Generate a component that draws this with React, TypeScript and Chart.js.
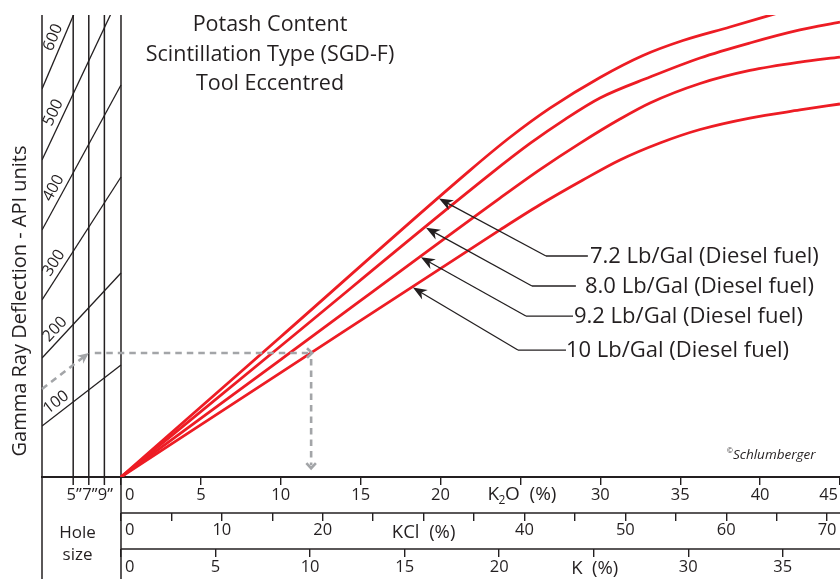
import React, { useEffect, useRef } from "react";
import { Chart, registerables } from "chart.js";

Chart.register(...registerables);

// ---------- scales ----------
const K2O_MIN = -4.944; // left edge of the hole-size panel, in K2O % units
const K2O_MAX = 45;
const KCL_PER_K2O = 1.584;
const K_PER_K2O = 0.845;
const GR_MIN = 0;
const GR_MAX = 500;

// hidden hole-size axis of the left nomogram panel (inches)
const HOLE_LEFT = 1;
const HOLE_AT_ORIGIN = 11.13;
const HOLE_MAX = HOLE_LEFT + ((HOLE_AT_ORIGIN - HOLE_LEFT) * (K2O_MAX - K2O_MIN)) / -K2O_MIN;
const HOLE_SIZES = [5, 7, 9];
const HOLE_LABELS = ["5\u201D", "7\u201D", "9\u201D"];

// ---------- tick values / labels ----------
const K2O_TICKS = [0, 5, 10, 15, 20, 25, 30, 35, 40, 45];
const K2O_LABELS = [0, 5, 10, 15, 20, 30, 35, 40, 45];
const K2O_NAME_AT = 25;
const KCL_TICKS = [0, 5, 10, 15, 20, 25, 30, 35, 40, 45, 50, 55, 60, 65, 70];
const KCL_LABELS = [0, 10, 20, 40, 50, 60, 70];
const KCL_NAME_AT = 30;
const K_TICKS = [0, 5, 10, 15, 20, 25, 30, 35];
const K_LABELS = [0, 5, 10, 15, 20, 30, 35];
const K_NAME_AT = 25;

// ---------- curves (x: K2O %, y: gamma ray deflection) ----------
const FUEL_LABELS = [
  "7.2 Lb/Gal (Diesel fuel)",
  "8.0 Lb/Gal (Diesel fuel)",
  "9.2 Lb/Gal (Diesel fuel)",
  "10 Lb/Gal (Diesel fuel)",
];
const K2O_72 = [0, 10, 21.84, 24.35, 26.85, 29.98, 32.67, 35.17, 38.11, 41.12];
const GR_72 = [0, 151.8, 331.9, 367.7, 399.2, 432.4, 456.2, 472.4, 487.0, 502.2];
const K2O_80 = [0, 10, 23.09, 25.6, 27.79, 29.98, 33.11, 36.24, 39.36, 42.49, 45];
const GR_80 = [0, 141.8, 327.5, 361.0, 387.1, 410.2, 432.9, 453.5, 469.7, 483.8, 492.4];
const K2O_92 = [0, 10, 23.72, 26.22, 28.72, 31.23, 33.11, 36.24, 39.36, 42.49, 45];
const GR_92 = [0, 127.1, 301.9, 332.7, 361.1, 387.4, 404.8, 425.9, 440.0, 449.1, 454.5];
const K2O_100 = [0, 10, 23.72, 26.22, 28.91, 31.23, 33.73, 36.24, 39.36, 42.49, 45];
const GR_100 = [0, 113.0, 267.4, 294.6, 321.4, 343.1, 361.5, 376.1, 388.5, 397.2, 403.7];

// ---------- hole-size nomogram lines ----------
const GR_LINE_VALUES = [100, 200, 300, 400, 500, 600];
const GR_LINE_AT_LEFT = [55.2, 128.8, 191.6, 267.3, 343.1, 419.9];
const GR_LINE_AT_ORIGIN = [121.2, 220.8, 324.7, 424.2, 524.4, 620.6];

// ---------- worked example (dashed grey path) ----------
const EX_GR_LEFT = 95.2;
const EX_HOLE = 7;
const EX_GR = 134.2;
const EX_K2O = 11.9;
const EX_GR_END = 9.5;

// ---------- text ----------
const TITLE_LINES = ["Potash Content", "Scintillation Type (SGD-F)", "Tool Eccentred"];
const Y_TITLE = "Gamma Ray Deflection - API units";
const COPYRIGHT = "Schlumberger";

// ---------- layout / style ----------
const W = 840;
const H = 579;
const INK = "#231f20";
const RED = "#ed1c24";
const GRAY = "#a3a5a8";
const FONT = '"Open Sans", "Noto Sans", sans-serif';
const LEADERS = [
  { tip: 19.9, elbowX: 26.6, elbowY: 239.2, lineEnd: 29.22, textX: 29.35 },
  { tip: 19.09, elbowX: 25.72, elbowY: 206.7, lineEnd: 28.47, textX: 29.04 },
  { tip: 18.77, elbowX: 25.34, elbowY: 174.2, lineEnd: 28.29, textX: 28.35 },
  { tip: 18.27, elbowX: 24.84, elbowY: 137.4, lineEnd: 27.85, textX: 27.85 },
];

const CURVES = [
  [K2O_72, GR_72],
  [K2O_80, GR_80],
  [K2O_92, GR_92],
  [K2O_100, GR_100],
];

function interp(xs: number[], ys: number[], x: number) {
  for (let i = 1; i < xs.length; i++) {
    if (x <= xs[i]) {
      const t = (x - xs[i - 1]) / (xs[i] - xs[i - 1]);
      return ys[i - 1] + t * (ys[i] - ys[i - 1]);
    }
  }
  return ys[ys.length - 1];
}

function seg(ctx: CanvasRenderingContext2D, x1: number, y1: number, x2: number, y2: number) {
  ctx.beginPath();
  ctx.moveTo(x1, y1);
  ctx.lineTo(x2, y2);
  ctx.stroke();
}

function arrowHead(
  ctx: CanvasRenderingContext2D,
  tx: number,
  ty: number,
  fx: number,
  fy: number,
  len: number,
  half: number,
  color: string
) {
  const a = Math.atan2(ty - fy, tx - fx);
  const c = Math.cos(a);
  const s = Math.sin(a);
  const bx = tx - len * c;
  const by = ty - len * s;
  const nx = tx - len * 0.7 * c;
  const ny = ty - len * 0.7 * s;
  ctx.save();
  ctx.fillStyle = color;
  ctx.beginPath();
  ctx.moveTo(tx, ty);
  ctx.lineTo(bx - s * half, by + c * half);
  ctx.lineTo(nx, ny);
  ctx.lineTo(bx + s * half, by - c * half);
  ctx.closePath();
  ctx.fill();
  ctx.restore();
}

function chevron(ctx: CanvasRenderingContext2D, tx: number, ty: number, ang: number, len: number) {
  const spread = 0.75;
  ctx.beginPath();
  ctx.moveTo(tx - len * Math.cos(ang - spread), ty - len * Math.sin(ang - spread));
  ctx.lineTo(tx, ty);
  ctx.lineTo(tx - len * Math.cos(ang + spread), ty - len * Math.sin(ang + spread));
  ctx.stroke();
}

const decoPlugin = {
  id: "deco",
  beforeDatasetsDraw(chart: any) {
    const { ctx, chartArea: a, scales } = chart;
    const sx = scales.x;
    const sh = scales.xh;
    const sc = scales.xKCl;
    const sk = scales.xK;
    const X0 = sx.getPixelForValue(0);
    ctx.save();
    ctx.strokeStyle = INK;
    ctx.lineWidth = 1.5;
    seg(ctx, a.left, a.top, a.left, chart.height);
    seg(ctx, X0, a.top, X0, chart.height);
    HOLE_SIZES.forEach((h) => {
      const p = sh.getPixelForValue(h);
      seg(ctx, p, a.top, p, a.bottom + 8);
    });
    ctx.lineWidth = 1.6;
    seg(ctx, X0, sc.top, a.right, sc.top);
    seg(ctx, X0, sk.top, a.right, sk.top);
    ctx.restore();
  },
  afterDatasetsDraw(chart: any) {
    const { ctx, chartArea: a, scales } = chart;
    const sx = scales.x;
    const sh = scales.xh;
    const sy = scales.y;
    const sc = scales.xKCl;
    const sk = scales.xK;
    const X0 = sx.getPixelForValue(0);
    ctx.save();
    ctx.fillStyle = INK;
    ctx.strokeStyle = INK;

    // nomogram labels
    ctx.font = `16px ${FONT}`;
    ctx.textAlign = "center";
    ctx.textBaseline = "middle";
    GR_LINE_VALUES.forEach((v, i) => {
      const xL = sh.getPixelForValue(HOLE_LEFT);
      const yL = sy.getPixelForValue(GR_LINE_AT_LEFT[i]);
      const xR = sh.getPixelForValue(HOLE_AT_ORIGIN);
      const yR = sy.getPixelForValue(GR_LINE_AT_ORIGIN[i]);
      const ang = Math.atan2(yR - yL, xR - xL);
      const ax = sh.getPixelForValue(3.6);
      const ay = yL + ((ax - xL) * (yR - yL)) / (xR - xL);
      const cx = ax + 10 * Math.sin(ang);
      const cy = ay - 10 * Math.cos(ang);
      ctx.save();
      ctx.translate(cx, cy);
      ctx.rotate(ang);
      ctx.fillText(String(v), 0, 0);
      ctx.restore();
    });

    // worked example
    ctx.save();
    ctx.strokeStyle = GRAY;
    ctx.lineWidth = 2.6;
    ctx.setLineDash([6.5, 5]);
    const p1x = sh.getPixelForValue(HOLE_LEFT);
    const p1y = sy.getPixelForValue(EX_GR_LEFT);
    const p2x = sh.getPixelForValue(EX_HOLE);
    const p2y = sy.getPixelForValue(EX_GR);
    const p3x = sx.getPixelForValue(EX_K2O);
    const p4y = sy.getPixelForValue(EX_GR_END);
    const a1 = Math.atan2(p2y - p1y, p2x - p1x);
    seg(ctx, p1x, p1y, p2x - 7 * Math.cos(a1), p2y - 7 * Math.sin(a1));
    seg(ctx, p2x + 6, p2y, p3x - 3, p2y);
    seg(ctx, p3x, p2y + 6, p3x, p4y - 3);
    ctx.setLineDash([]);
    arrowHead(ctx, p2x, p2y, p1x, p1y, 11, 5, GRAY);
    ctx.lineWidth = 2.6;
    chevron(ctx, p3x + 1, p2y, 0, 7);
    chevron(ctx, p3x, p4y, Math.PI / 2, 7);
    ctx.restore();

    // leaders
    ctx.lineWidth = 1.3;
    ctx.font = `22px ${FONT}`;
    ctx.textAlign = "left";
    ctx.textBaseline = "middle";
    LEADERS.forEach((L, i) => {
      const [xs, ys] = CURVES[i];
      const tx = sx.getPixelForValue(L.tip);
      const ty = sy.getPixelForValue(interp(xs, ys, L.tip)) + 1;
      const ex = sx.getPixelForValue(L.elbowX);
      const ey = sy.getPixelForValue(L.elbowY);
      const lx = sx.getPixelForValue(L.lineEnd);
      seg(ctx, lx, ey, ex, ey);
      const ang = Math.atan2(ty - ey, tx - ex);
      seg(ctx, ex, ey, tx - 9 * Math.cos(ang), ty - 9 * Math.sin(ang));
      arrowHead(ctx, tx, ty, ex, ey, 14, 5.5, INK);
      ctx.fillText(FUEL_LABELS[i], sx.getPixelForValue(L.textX), ey + 1);
    });

    // title
    ctx.font = `21.5px ${FONT}`;
    ctx.textAlign = "center";
    TITLE_LINES.forEach((t, i) => ctx.fillText(t, 270, 25 + i * 29.5));

    // y title
    ctx.save();
    ctx.translate(20, 301);
    ctx.rotate(-Math.PI / 2);
    ctx.font = `20px ${FONT}`;
    ctx.fillText(Y_TITLE, 0, 0);
    ctx.restore();

    // copyright
    ctx.textAlign = "left";
    ctx.font = `7px ${FONT}`;
    ctx.fillText("\u00A9", 727, 451);
    ctx.font = `italic 13.5px ${FONT}`;
    ctx.fillText(COPYRIGHT, 733, 455);

    // axis rows
    const rowLabels = (scale: any, vals: number[], yOff: number, maxV: number) => {
      ctx.font = `16.5px ${FONT}`;
      vals.forEach((v) => {
        const p = scale.getPixelForValue(v);
        if (v === 0) {
          ctx.textAlign = "left";
          ctx.fillText("0", X0 + 4, scale.top + yOff);
        } else if (v === maxV && p > a.right - 10) {
          ctx.textAlign = "right";
          ctx.fillText(String(v), a.right - 2, scale.top + yOff);
        } else {
          ctx.textAlign = "center";
          ctx.fillText(String(v), p, scale.top + yOff);
        }
      });
    };
    rowLabels(sx, K2O_LABELS, 18, K2O_MAX);
    rowLabels(sc, KCL_LABELS, 17, -1);
    rowLabels(sk, K_LABELS, 18, -1);

    // axis names
    ctx.textAlign = "left";
    {
      const cx = sx.getPixelForValue(K2O_NAME_AT);
      const y = sx.top + 18;
      ctx.font = `19px ${FONT}`;
      const wK = ctx.measureText("K").width;
      const wRest = ctx.measureText("O  (%)").width;
      ctx.font = `12px ${FONT}`;
      const w2 = ctx.measureText("2").width;
      let x = cx - (wK + w2 + wRest) / 2 + 2;
      ctx.font = `19px ${FONT}`;
      ctx.fillText("K", x, y);
      x += wK;
      ctx.font = `12px ${FONT}`;
      ctx.fillText("2", x - 0.5, y + 6);
      x += w2 - 1;
      ctx.font = `19px ${FONT}`;
      ctx.fillText("O  (%)", x, y);
    }
    ctx.textAlign = "center";
    ctx.font = `18.5px ${FONT}`;
    ctx.fillText("KCl  (%)", sc.getPixelForValue(KCL_NAME_AT), sc.top + 20);
    ctx.fillText("K  (%)", sk.getPixelForValue(K_NAME_AT) + 1, sk.top + 20);

    // hole size labels
    ctx.font = `16.5px ${FONT}`;
    HOLE_SIZES.forEach((h, i) => {
      ctx.fillText(HOLE_LABELS[i], sh.getPixelForValue(h) + 1, sx.top + 18);
    });
    ctx.font = `17px ${FONT}`;
    const hx = (a.left + X0) / 2 - 4;
    ctx.fillText("Hole", hx, sc.top + 20);
    ctx.fillText("size", hx, sk.top + 6);

    ctx.restore();
  },
};

function rowAxis(min: number, max: number, ticks: number[], weight: number, height: number, border: boolean) {
  return {
    type: "linear",
    axis: "x",
    position: "bottom",
    min,
    max,
    weight,
    afterBuildTicks: (s: any) => {
      s.ticks = ticks.map((v) => ({ value: v }));
    },
    afterFit: (s: any) => {
      s.height = height;
      s.paddingLeft = 0;
      s.paddingRight = 0;
    },
    grid: { drawOnChartArea: false, drawTicks: true, tickLength: 8, color: INK, lineWidth: 1.4 },
    border: { display: border, color: INK, width: 2 },
    ticks: { display: false },
  };
}

export default function App() {
  const ref = useRef<HTMLCanvasElement>(null);
  useEffect(() => {
    const curveSets = CURVES.map(([xs, ys], i) => ({
      label: FUEL_LABELS[i],
      data: xs.map((x, j) => ({ x, y: ys[j] })),
      xAxisID: "x",
      yAxisID: "y",
      borderColor: RED,
      borderWidth: 2.8,
      pointRadius: 0,
      fill: false,
      cubicInterpolationMode: "monotone",
    }));
    const nomoSets = GR_LINE_VALUES.map((v, i) => ({
      label: `${v}`,
      data: [
        { x: HOLE_LEFT, y: GR_LINE_AT_LEFT[i] },
        { x: HOLE_AT_ORIGIN, y: GR_LINE_AT_ORIGIN[i] },
      ],
      xAxisID: "xh",
      yAxisID: "y",
      borderColor: INK,
      borderWidth: 1.3,
      pointRadius: 0,
      fill: false,
      tension: 0,
    }));
    const chart = new Chart(ref.current as HTMLCanvasElement, {
      type: "line",
      data: { datasets: [...nomoSets, ...curveSets] as any },
      options: {
        responsive: false,
        animation: false,
        devicePixelRatio: 1,
        layout: { padding: { left: 42, top: 15, right: 0, bottom: 0 } },
        plugins: { legend: { display: false }, tooltip: { enabled: false } },
        events: [],
        scales: {
          x: rowAxis(K2O_MIN, K2O_MAX, K2O_TICKS, 0, 36, true),
          xKCl: rowAxis(K2O_MIN * KCL_PER_K2O, K2O_MAX * KCL_PER_K2O, KCL_TICKS, 1, 36, false),
          xK: rowAxis(K2O_MIN * K_PER_K2O, K2O_MAX * K_PER_K2O, K_TICKS, 2, 30, false),
          xh: { type: "linear", axis: "x", position: "bottom", display: false, min: HOLE_LEFT, max: HOLE_MAX },
          y: { type: "linear", position: "left", display: false, min: GR_MIN, max: GR_MAX },
        } as any,
      },
      plugins: [decoPlugin],
    });
    return () => chart.destroy();
  }, []);
  return (
    <div style={{ position: "fixed", left: 0, top: 0, width: W, height: H, background: "#fff" }}>
      <canvas ref={ref} width={W} height={H} style={{ display: "block", width: W, height: H }} />
    </div>
  );
}
